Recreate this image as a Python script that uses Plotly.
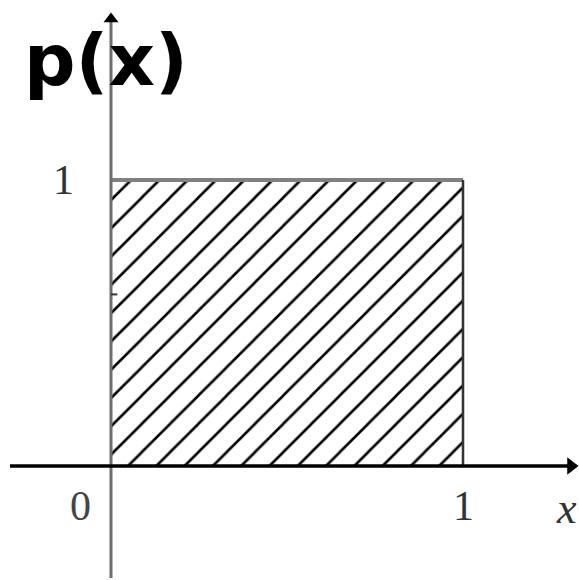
import plotly.graph_objects as go

# Uniform density on [0, 1]
x_edges = [0, 1]
density = [1, 1]
x_tick_labels = ["0", "1"]
y_tick_labels = ["1"]
axis_name_x = "x"
axis_name_y = "p(x)"

W, H = 579, 580
# axis ranges chosen so that one unit spans the plotted square nicely
x_range = [-111 / 352, (W - 111) / 352]
y_range = [-(H - 466) / 286, 466 / 286]

fig = go.Figure()

# hatched rectangle under the density
fig.add_trace(go.Scatter(
    x=[x_edges[0], x_edges[0], x_edges[1], x_edges[1], x_edges[0]],
    y=[0, density[0], density[1], 0, 0],
    mode="lines",
    line=dict(width=0, color="rgba(0,0,0,0)"),
    fill="toself",
    fillcolor="white",
    fillpattern=dict(shape="/", size=20, solidity=0.13, fgopacity=1,
                     fgcolor="black", bgcolor="white", fillmode="replace"),
    hoverinfo="skip", showlegend=False,
))
# top edge of the density (gray) and right edge
fig.add_trace(go.Scatter(x=[x_edges[0], x_edges[1]], y=[density[0], density[1]],
                         mode="lines", line=dict(color="#808080", width=4),
                         hoverinfo="skip", showlegend=False))
fig.add_trace(go.Scatter(x=[x_edges[1], x_edges[1]], y=[0, density[1]],
                         mode="lines", line=dict(color="#333333", width=2.5),
                         hoverinfo="skip", showlegend=False))

px_x = lambda p: x_range[0] + p / W * (x_range[1] - x_range[0])
px_y = lambda p: y_range[1] - p / H * (y_range[1] - y_range[0])

# y axis (gray) and x axis (black)
fig.add_trace(go.Scatter(x=[0, 0], y=[px_y(578), px_y(22)], mode="lines",
                         line=dict(color="#6e6e6e", width=3),
                         hoverinfo="skip", showlegend=False))
fig.add_trace(go.Scatter(x=[0, 0.018], y=[0.6, 0.6], mode="lines",
                         line=dict(color="#333333", width=2),
                         hoverinfo="skip", showlegend=False))
fig.add_trace(go.Scatter(x=[px_x(10), px_x(568)], y=[0, 0], mode="lines",
                         line=dict(color="black", width=3.5),
                         hoverinfo="skip", showlegend=False))
# arrow heads
fig.add_trace(go.Scatter(x=[px_x(571)], y=[0], mode="markers",
                         marker=dict(symbol="triangle-right", size=15, color="black"),
                         hoverinfo="skip", showlegend=False))
fig.add_trace(go.Scatter(x=[0], y=[px_y(19)], mode="markers",
                         marker=dict(symbol="triangle-up", size=13, color="black"),
                         hoverinfo="skip", showlegend=False))

serif = "Liberation Serif"
ann = [
    dict(x=px_x(63), y=1.0, text=y_tick_labels[0],
         font=dict(family=serif, size=42, color="#333333")),
    dict(x=px_x(80), y=px_y(506), text=x_tick_labels[0],
         font=dict(family=serif, size=42, color="#444444")),
    dict(x=1.0, y=px_y(506), text=x_tick_labels[1],
         font=dict(family=serif, size=42, color="#333333")),
    dict(x=px_x(566), y=px_y(508), text="<i>" + axis_name_x + "</i>",
         font=dict(family=serif, size=44, color="#333333")),
    dict(x=px_x(106), y=px_y(60), text="<b>" + axis_name_y + "</b>",
         font=dict(family="DejaVu Sans", size=72, color="black")),
]
for a in ann:
    a.update(showarrow=False, xref="x", yref="y", xanchor="center", yanchor="middle")
fig.update_layout(annotations=ann)

fig.update_layout(
    width=W, height=H,
    margin=dict(l=0, r=0, t=0, b=0),
    paper_bgcolor="white", plot_bgcolor="white",
    xaxis=dict(range=x_range, visible=False, fixedrange=True),
    yaxis=dict(range=y_range, visible=False, fixedrange=True),
    showlegend=False,
)

fig.write_html("out.html")
